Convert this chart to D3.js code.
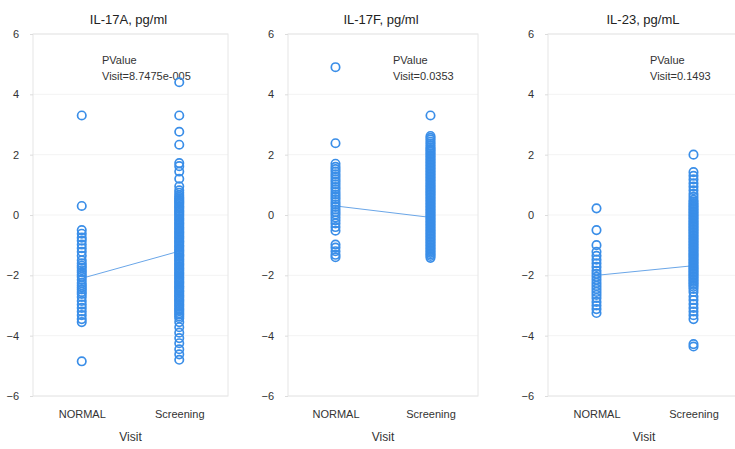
<!DOCTYPE html>
<html>
<head>
<meta charset="utf-8">
<script src="https://cdn.jsdelivr.net/npm/d3@7"></script>
<style>
  body { margin: 0; background: #fff; }
  svg { display: block; font-family: "Liberation Sans", Arial, sans-serif; }
</style>
</head>
<body>
<svg id="chart" width="735" height="449"></svg>
<script>
// ---------- data ----------
const categories = ["NORMAL", "Screening"];
const titles = ["IL-17A, pg/ml", "IL-17F, pg/ml", "IL-23, pg/mL"];
const pvalueTexts = ["Visit=8.7475e-005", "Visit=0.0353", "Visit=0.1493"];
const yTicks = [-6, -4, -2, 0, 2, 4, 6];
const means = [[-2.1, -1.2], [0.3, -0.08], [-2.0, -1.68]];

const il17aNormal = [3.3, 0.3, -0.5, -0.62, -0.75, -0.85, -0.98, -1.1, -1.22, -1.35, -1.5, -1.6, -1.68,
  -1.75, -1.83, -1.9, -1.98, -2.05, -2.15, -2.25, -2.33, -2.4, -2.47, -2.55, -2.62, -2.72, -2.85,
  -2.97, -3.08, -3.2, -3.32, -3.45, -3.55, -4.85];
const il17aScreening = [4.4, 3.3, 2.76, 2.33, 1.72, 1.62, 1.44, 1.2, 0.95, 0.82, 0.74, 0.66,
  0.6, 0.55, 0.5, 0.45, 0.41, 0.36, 0.3, 0.26, 0.21, 0.15, 0.11, 0.06, 0.01, -0.04, -0.1, -0.14, -0.19,
  -0.25, -0.29, -0.34, -0.4, -0.44, -0.49, -0.55, -0.59, -0.64, -0.7, -0.74, -0.79, -0.85, -0.89, -0.94,
  -1.0, -1.04, -1.09, -1.15, -1.19, -1.24, -1.3, -1.34, -1.39, -1.45, -1.49, -1.54, -1.6, -1.64, -1.69,
  -1.75, -1.79, -1.84, -1.9, -1.94, -1.99, -2.05, -2.09, -2.14, -2.2, -2.24, -2.29, -2.35, -2.39, -2.44,
  -2.5, -2.54, -2.59, -2.65, -2.69, -2.74, -2.8, -2.84, -2.89, -2.95, -2.99, -3.04, -3.1, -3.14, -3.19,
  -3.25, -3.3, -3.36, -3.42, -3.55, -3.72, -3.9, -4.08, -4.25, -4.45, -4.62, -4.8];

const il17fNormal = [4.9, 2.38, 1.7, 1.6, 1.52, 1.44, 1.35, 1.27, 1.18, 1.1, 1.02, 0.93, 0.85, 0.76,
  0.68, 0.6, 0.52, 0.43, 0.35, 0.27, 0.18, 0.1, 0.02, -0.08, -0.18, -0.28, -0.4, -0.52, -0.98, -1.08,
  -1.2, -1.32, -1.4];
const il17fScreening = [3.3, 2.62, 2.56, 2.5, 2.43, 2.37, 2.3, 2.24, 2.19, 2.14, 2.09, 2.04, 1.99,
  1.94, 1.89, 1.84, 1.79, 1.74, 1.69, 1.64, 1.59, 1.54, 1.49, 1.44, 1.39, 1.34, 1.29, 1.24, 1.19, 1.14,
  1.09, 1.04, 0.99, 0.94, 0.89, 0.84, 0.79, 0.74, 0.69, 0.64, 0.59, 0.54, 0.49, 0.44, 0.39, 0.34, 0.29,
  0.24, 0.19, 0.14, 0.09, 0.04, -0.01, -0.06, -0.11, -0.16, -0.21, -0.26, -0.31, -0.36, -0.41, -0.46,
  -0.51, -0.56, -0.61, -0.66, -0.71, -0.76, -0.81, -0.86, -0.91, -0.96, -1.01, -1.06, -1.11, -1.16,
  -1.21, -1.26, -1.31, -1.36, -1.42];

const il23Normal = [0.22, -0.5, -1.0, -1.22, -1.35, -1.48, -1.6, -1.72, -1.85, -1.95, -2.05, -2.15,
  -2.25, -2.35, -2.45, -2.55, -2.65, -2.75, -2.88, -3.0, -3.12, -3.25];
const il23Screening = [2.0, 1.42, 1.3, 1.18, 1.05, 0.94, 0.82, 0.7, 0.6, 0.5, 0.44, 0.38, 0.33,
  0.28, 0.23, 0.18, 0.13, 0.08, 0.03, -0.02, -0.07, -0.12, -0.17, -0.22, -0.27, -0.32, -0.37, -0.42,
  -0.47, -0.52, -0.57, -0.62, -0.67, -0.72, -0.77, -0.82, -0.87, -0.92, -0.97, -1.02, -1.07, -1.12,
  -1.17, -1.22, -1.27, -1.32, -1.37, -1.42, -1.47, -1.52, -1.57, -1.62, -1.67, -1.72, -1.77, -1.82,
  -1.87, -1.92, -1.97, -2.02, -2.07, -2.12, -2.17, -2.22, -2.27, -2.32, -2.38, -2.45, -2.55, -2.7,
  -2.82, -2.95, -3.08, -3.2, -3.32, -3.45, -4.28, -4.36];

const panelSeries = [
  [il17aNormal, il17aScreening],
  [il17fNormal, il17fScreening],
  [il23Normal, il23Screening]
];

// ---------- layout ----------
const frames = [[33, 228], [288, 478], [548, 742]];
const pvalueX = [102, 393, 650];
const plotTop = 34, plotBottom = 396;
const pointColor = "#3a8ee8";
const lineColor = "#6aa6e8";

const svg = d3.select("#chart");
const y = d3.scaleLinear().domain([-6, 6]).range([plotBottom, plotTop]);

frames.forEach((fr, i) => {
  const g = svg.append("g");
  const x = d3.scalePoint().domain(categories).range(fr).padding(0.5);

  // faint grid
  g.append("g").selectAll("line").data(yTicks).join("line")
    .attr("x1", fr[0]).attr("x2", fr[1])
    .attr("y1", d => y(d)).attr("y2", d => y(d))
    .attr("stroke", "#f3f3f3").attr("stroke-width", 1);

  // frame
  g.append("rect")
    .attr("x", fr[0]).attr("y", plotTop)
    .attr("width", fr[1] - fr[0]).attr("height", plotBottom - plotTop)
    .attr("fill", "none").attr("stroke", "#e6e6e6").attr("stroke-width", 1);

  // y axis
  const ax = g.append("g").attr("transform", `translate(${fr[0]},0)`)
    .call(d3.axisLeft(y).tickValues(yTicks).tickSize(3).tickPadding(11).tickFormat(d3.format("d")));
  ax.select(".domain").remove();
  ax.selectAll(".tick line").attr("stroke", "#dcdcdc");
  ax.selectAll(".tick text").attr("fill", "#333").style("font-size", "11px");

  // x axis labels
  const xa = g.append("g").attr("transform", `translate(0,${plotBottom})`)
    .call(d3.axisBottom(x).tickSize(0).tickPadding(14));
  xa.select(".domain").remove();
  xa.selectAll(".tick text").attr("fill", "#333").style("font-size", "11px");

  // axis title
  g.append("text").attr("x", (fr[0] + Math.min(fr[1], 740)) / 2).attr("y", 441)
    .attr("text-anchor", "middle").attr("fill", "#333").style("font-size", "12px").text("Visit");

  // panel title
  g.append("text").attr("x", (fr[0] + fr[1]) / 2 - 2).attr("y", 24)
    .attr("text-anchor", "middle").attr("fill", "#222").style("font-size", "13px").text(titles[i]);

  // p-value
  g.append("text").attr("x", pvalueX[i]).attr("y", 64)
    .attr("fill", "#333").style("font-size", "11px").text("PValue");
  g.append("text").attr("x", pvalueX[i]).attr("y", 80)
    .attr("fill", "#333").style("font-size", "11px").text(pvalueTexts[i]);

  // mean line
  g.append("line")
    .attr("x1", x(categories[0])).attr("y1", y(means[i][0]))
    .attr("x2", x(categories[1])).attr("y2", y(means[i][1]))
    .attr("stroke", lineColor).attr("stroke-width", 1);

  // points
  panelSeries[i].forEach((vals, ci) => {
    g.append("g").selectAll("circle").data(vals).join("circle")
      .attr("cx", x(categories[ci])).attr("cy", d => y(d)).attr("r", 4.2)
      .attr("fill", "none").attr("stroke", pointColor).attr("stroke-width", 1.7);
  });
});
</script>
</body>
</html>
